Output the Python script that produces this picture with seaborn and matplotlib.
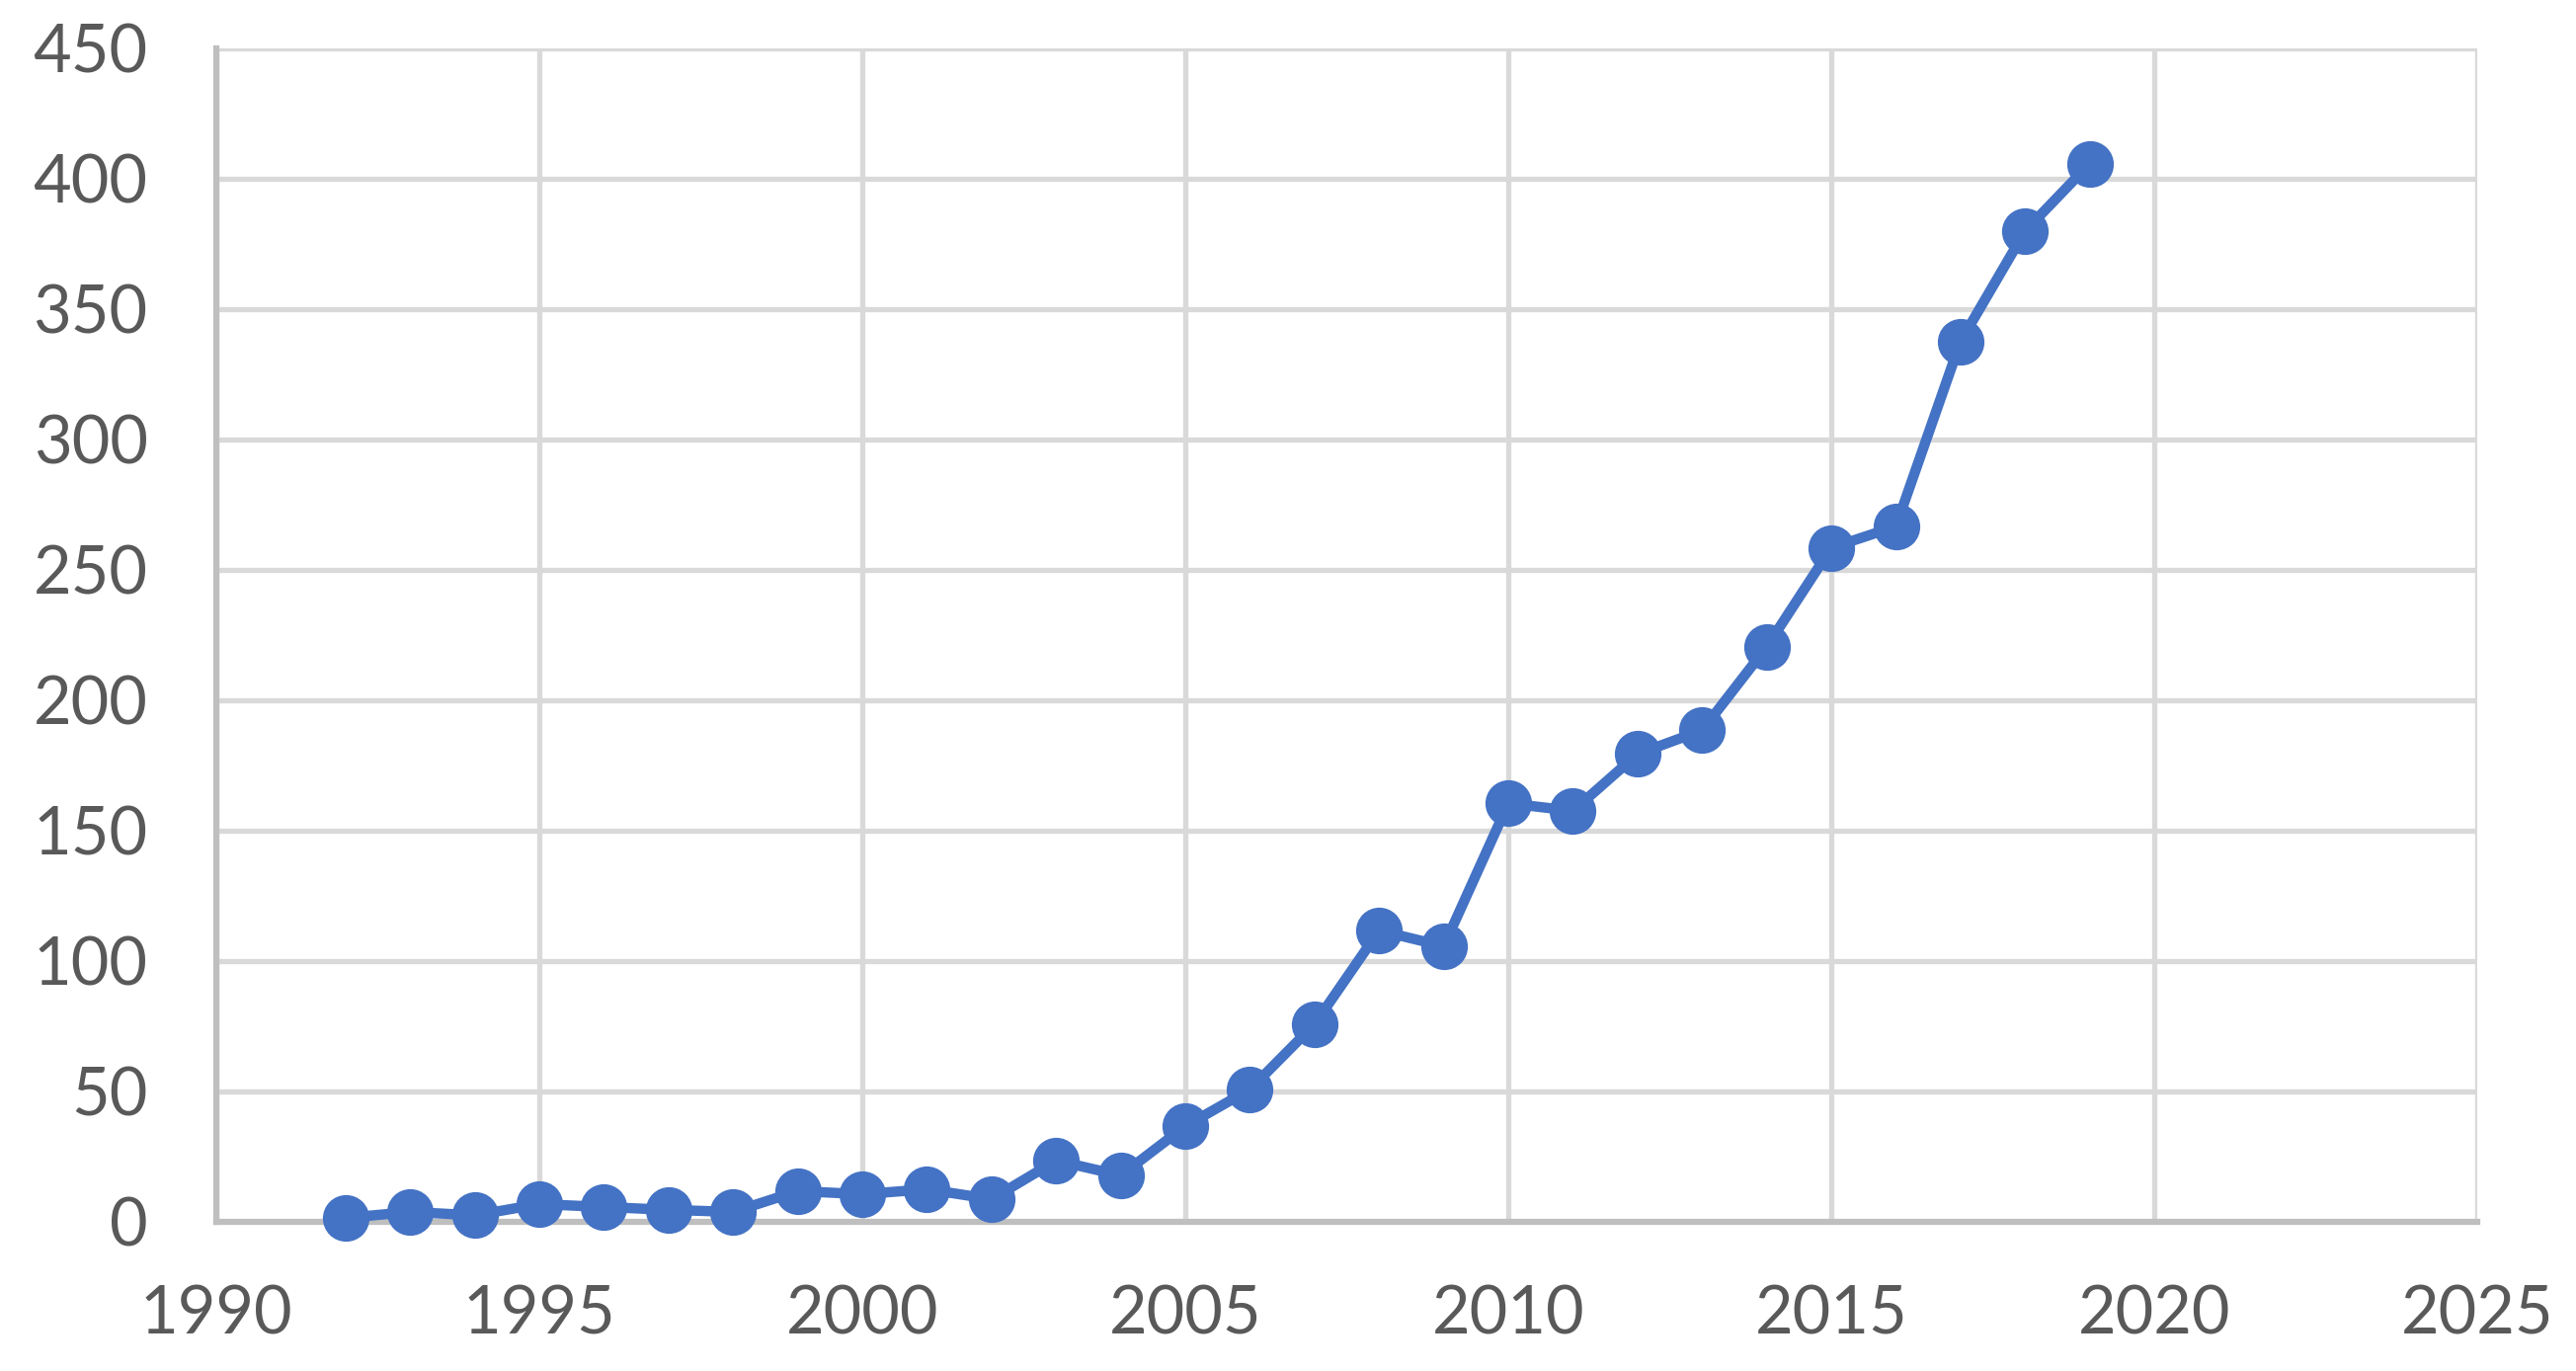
import matplotlib
matplotlib.use("Agg")
import matplotlib.pyplot as plt
import pandas as pd
import seaborn as sns

years = list(range(1992, 2020))
counts = [1.5, 3.8, 2.5, 6.8, 5.7, 4.6, 3.8, 11.8, 10.6, 12.5, 8.7, 23.5, 17.8,
          36.7, 50.8, 75.8, 111.7, 105.7, 160.5, 157.6, 179.4, 188.5, 220.5,
          258.5, 266.7, 337.6, 380.0, 405.8]
x_ticks = list(range(1990, 2026, 5))
y_ticks = list(range(0, 451, 50))

df = pd.DataFrame({'year': years, 'count': counts})

sns.set_style('white')
plt.rcParams['font.family'] = ['Lato', 'DejaVu Sans']

fig, ax = plt.subplots(figsize=(26.08, 13.88), dpi=100)
fig.subplots_adjust(left=0.084, right=0.9617, bottom=0.1088, top=0.9647)

sns.lineplot(data=df, x='year', y='count', ax=ax, color='#4472c4',
             linewidth=7.5, marker='o', markersize=34, markeredgewidth=0,
             clip_on=False, zorder=5)

ax.set_xlim(1990, 2025)
ax.set_ylim(0, 450)
ax.set_xticks(x_ticks)
ax.set_yticks(y_ticks)
ax.grid(True, color='#d9d9d9', linewidth=3.8)
ax.set_axisbelow(True)

for side in ['top', 'right']:
    ax.spines[side].set_visible(False)
for side in ['left', 'bottom']:
    ax.spines[side].set_color('#bfbfbf')
    ax.spines[side].set_linewidth(4.5)
    ax.spines[side].set_zorder(3)

ax.tick_params(axis='both', length=0, labelsize=48, labelcolor='#595959')
ax.tick_params(axis='y', pad=50)
ax.tick_params(axis='x', pad=46)
ax.set_xlabel('')
ax.set_ylabel('')

fig.savefig('out.png', dpi=100)
